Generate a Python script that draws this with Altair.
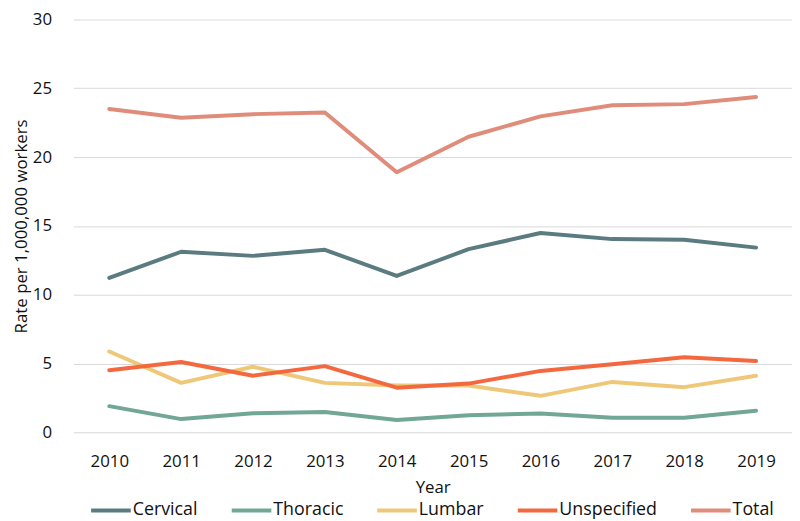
import altair as alt
import pandas as pd

years = ["2010", "2011", "2012", "2013", "2014", "2015", "2016", "2017", "2018", "2019"]
series = ["Cervical", "Thoracic", "Lumbar", "Unspecified", "Total"]
cervical = [11.22, 13.12, 12.82, 13.26, 11.36, 13.31, 14.48, 14.04, 13.99, 13.42]
thoracic = [1.90, 0.96, 1.38, 1.48, 0.89, 1.24, 1.36, 1.06, 1.06, 1.57]
lumbar = [5.87, 3.59, 4.76, 3.59, 3.40, 3.40, 2.65, 3.66, 3.28, 4.11]
unspecified = [4.51, 5.11, 4.11, 4.81, 3.24, 3.54, 4.46, 4.95, 5.46, 5.18]
total = [23.49, 22.86, 23.12, 23.24, 18.90, 21.48, 22.96, 23.77, 23.85, 24.37]
colors = ["#5a7b80", "#72a795", "#eec878", "#f4683f", "#e08c7b"]

values = [cervical, thoracic, lumbar, unspecified, total]
rows = []
for s, vals in zip(series, values):
    for y, v in zip(years, vals):
        rows.append({"Year": y, "Series": s, "Rate": v})
df = pd.DataFrame(rows)

FONT = "Open Sans"

chart = alt.Chart(df).mark_line(strokeWidth=4, strokeCap="round", strokeJoin="round").encode(
    x=alt.X("Year:O", sort=years,
            scale=alt.Scale(type="point", padding=0.5),
            axis=alt.Axis(title="Year", labelAngle=0, ticks=False, domain=False,
                          labelPadding=22, titlePadding=10, grid=False)),
    y=alt.Y("Rate:Q", scale=alt.Scale(domain=[0, 30], nice=False),
            axis=alt.Axis(title="Rate per 1,000,000 workers", values=[0, 5, 10, 15, 20, 25, 30],
                          ticks=False, domain=False, labelPadding=22, titlePadding=2)),
    color=alt.Color("Series:N", sort=series,
                    scale=alt.Scale(domain=series, range=colors),
                    legend=alt.Legend(title=None, orient="none", direction="horizontal",
                                      legendX=16, legendY=474,
                                      symbolType="stroke", symbolSize=1600, symbolStrokeWidth=4,
                                      labelOffset=0, columnPadding=26, columns=5)),
    order=alt.Order("Series:N"),
).properties(
    width=726, height=417,
    autosize=alt.AutoSizeParams(type="none"),
    padding={"left": 66, "top": 9, "right": 0, "bottom": 87},
).configure_view(stroke=None).configure_axis(
    labelFont=FONT, titleFont=FONT, labelFontSize=17, titleFontSize=17,
    labelColor="#111111", titleColor="#111111", titleFontWeight="normal",
    gridColor="#d9d9d9", gridWidth=1,
).configure_axisX(titleFontSize=17).configure_legend(
    labelFont=FONT, labelFontSize=18, labelColor="#111111", labelLimit=0
)

chart.save("out.html", embed_options={"renderer": "svg", "actions": False})
